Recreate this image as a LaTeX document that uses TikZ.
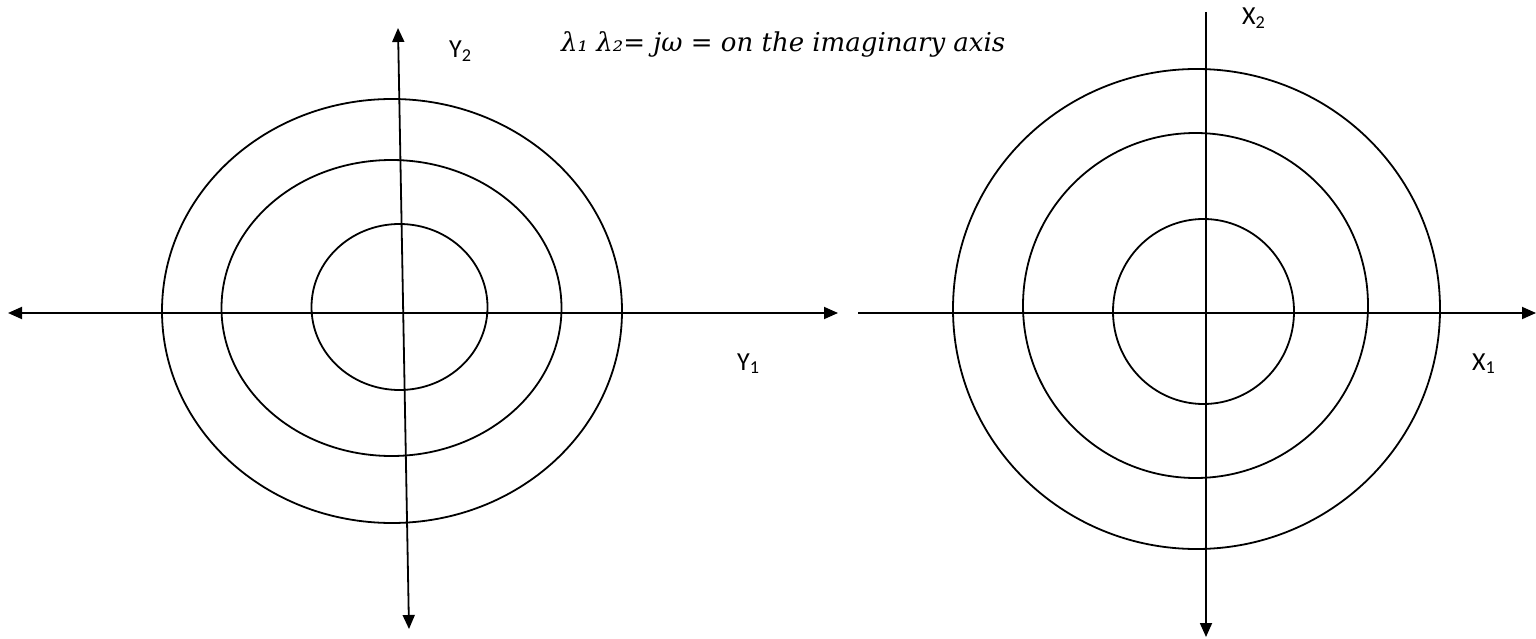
\documentclass[tikz,border=0pt]{standalone}
\usepackage{fontspec}
\setmainfont{Carlito}
\newfontfamily\eqfont{DejaVu Serif}
\usetikzlibrary{arrows.meta}
\tikzset{
  axis/.style={line width=1.8pt, -{Triangle[length=14pt,width=12pt]}},
  daxis/.style={line width=1.8pt, {Triangle[length=14pt,width=12pt]}-{Triangle[length=14pt,width=12pt]}},
  ring/.style={line width=1.8pt},
  lbl/.style={font=\fontsize{26}{30}\selectfont, inner sep=0pt, anchor=base west},
  mathlbl/.style={font=\eqfont\itshape\fontsize{26}{30}\selectfont, inner sep=0pt, anchor=base west}
}
\begin{document}
\begin{tikzpicture}[x=1pt,y=-1pt]
\useasboundingbox (0,0) rectangle (1536,639);
% left figure
\coordinate (lw) at (8,313);
\coordinate (le) at (838,313);
\coordinate (ln) at (398,28);
\coordinate (ls) at (409,629);
\draw[ring] (392,311) ellipse [x radius=230, y radius=212];
\draw[ring] (391.5,308) ellipse [x radius=170, y radius=148];
\draw[ring] (399.5,307) ellipse [x radius=88, y radius=83];
\draw[daxis] (lw) -- (le);
\draw[daxis] (ln) -- (ls);
\node[lbl] (y2) at (449,58) {Y\textsubscript{2}};
\node[lbl] (y1) at (737,370) {Y\textsubscript{1}};
% right figure
\coordinate (rw) at (858,313);
\coordinate (re) at (1536,313);
\coordinate (rn) at (1206,12);
\coordinate (rs) at (1206,637);
\draw[ring] (1196.5,309) ellipse [x radius=243.5, y radius=240];
\draw[ring] (1195.5,305.5) ellipse [x radius=172.5, y radius=172.5];
\draw[ring] (1203.5,311.5) ellipse [x radius=90.5, y radius=92.5];
\draw[axis] (rw) -- (re);
\draw[axis] (rn) -- (rs);
\node[lbl] (x2) at (1242,25) {X\textsubscript{2}};
\node[lbl] (x1) at (1472,370) {X\textsubscript{1}};
% equation
\node[mathlbl] (eq) at (561,52) {λ₁ λ₂= jω = on the imaginary axis};
\end{tikzpicture}
\end{document}
